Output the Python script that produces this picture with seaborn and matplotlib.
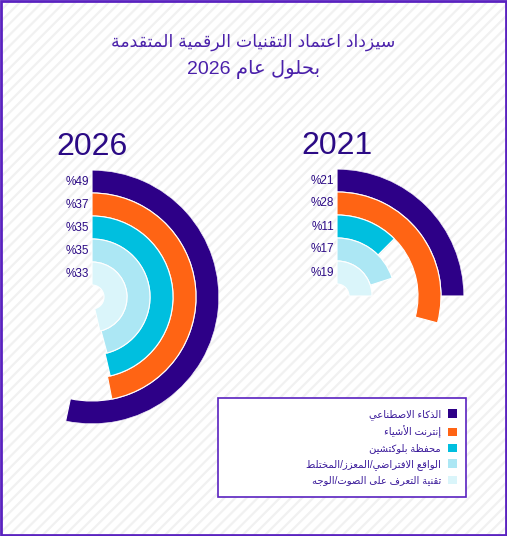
import re
import numpy as np
import matplotlib
matplotlib.use("Agg")
import matplotlib.pyplot as plt
import seaborn as sns
from matplotlib.patches import Patch, Rectangle

# data
categories = ["الذكاء الاصطناعي", "إنترنت الأشياء", "محفظة بلوكتشين",
              "الواقع الافتراضي/المعزز/المختلط", "تقنية التعرف على الصوت/الوجه"]
pct_2026 = [49, 37, 35, 35, 33]
pct_2021 = [21, 28, 11, 17, 19]
# arc length of each ring in degrees, as drawn in the picture
arc_2026 = [192, 169, 167, 165, 167]
arc_2021 = [90, 105, 45, 72, 90]
colors = ["#2d0087", "#ff6414", "#00bfdf", "#ace7f4", "#daf5fa"]
title_1 = "سيزداد اعتماد التقنيات الرقمية المتقدمة"
title_2 = "بحلول عام 2026"

# --- tiny arabic shaper + rtl reordering (matplotlib does neither) ---
DUAL = {'ئ': 0xFE89, 'ب': 0xFE8F, 'ت': 0xFE95, 'ث': 0xFE99, 'ج': 0xFE9D, 'ح': 0xFEA1,
        'خ': 0xFEA5, 'س': 0xFEB1, 'ش': 0xFEB5, 'ص': 0xFEB9, 'ض': 0xFEBD, 'ط': 0xFEC1,
        'ظ': 0xFEC5, 'ع': 0xFEC9, 'غ': 0xFECD, 'ف': 0xFED1, 'ق': 0xFED5, 'ك': 0xFED9,
        'ل': 0xFEDD, 'م': 0xFEE1, 'ن': 0xFEE5, 'ه': 0xFEE9, 'ي': 0xFEF1}
RIGHT = {'آ': 0xFE81, 'أ': 0xFE83, 'ؤ': 0xFE85, 'إ': 0xFE87, 'ا': 0xFE8D, 'ة': 0xFE93,
         'د': 0xFEA9, 'ذ': 0xFEAB, 'ر': 0xFEAD, 'ز': 0xFEAF, 'و': 0xFEED, 'ى': 0xFEEF}
NONE = {'ء': 0xFE80}
LAM_ALEF = {'آ': 0xFEF5, 'أ': 0xFEF7, 'إ': 0xFEF9, 'ا': 0xFEFB}


def shape_word(word):
    out, prev_fwd, i = [], False, 0
    while i < len(word):
        c = word[i]
        nxt = word[i + 1] if i + 1 < len(word) else ''
        if c == 'ل' and nxt in LAM_ALEF:
            out.append(chr(LAM_ALEF[nxt] + prev_fwd))
            prev_fwd = False
            i += 2
            continue
        if c in DUAL:
            nxt_ok = nxt in DUAL or nxt in RIGHT
            base = DUAL[c]
            if prev_fwd and nxt_ok:
                code = base + 3
            elif prev_fwd:
                code = base + 1
            elif nxt_ok:
                code = base + 2
            else:
                code = base
            out.append(chr(code))
            prev_fwd = nxt_ok
        elif c in RIGHT:
            out.append(chr(RIGHT[c] + prev_fwd))
            prev_fwd = False
        elif c in NONE:
            out.append(chr(NONE[c]))
            prev_fwd = False
        else:
            out.append(c)
            prev_fwd = False
        i += 1
    return ''.join(out[::-1])


def ar(text):
    # right-to-left line: reverse token order, keep digit runs as they are
    tokens = re.findall(r'[\u0600-\u06FF]+|[0-9]+|[^\u0600-\u06FF0-9]', text)
    return ''.join(shape_word(t) if re.match(r'[\u0600-\u06FF]', t) else t
                   for t in reversed(tokens))


sns.set_theme(style="white")
plt.rcParams['font.family'] = ['Liberation Sans', 'DejaVu Sans']
plt.rcParams['hatch.linewidth'] = 1.6

W, H = 507, 536
fig = plt.figure(figsize=(W / 100, H / 100), dpi=100)

# striped background and purple frame
bg = fig.add_axes([0, 0, 1, 1], zorder=-10)
bg.set_xlim(0, 1)
bg.set_ylim(0, 1)
bg.axis("off")
bg.add_patch(Rectangle((0, 0), 1, 1, facecolor="white", edgecolor="#f1f1f1",
                       hatch="///", lw=0))
bg.add_patch(Rectangle((0.002, 0.002), 0.996, 0.996, facecolor="none",
                       edgecolor="#5a22c0", lw=2))

text_col = "#2b0a85"
fig.text(0.5, 1 - 42 / H, ar(title_1), ha="center", va="center", fontsize=12.5,
         color="#4a20aa")
fig.text(0.5, 1 - 69 / H, ar(title_2), ha="center", va="center", fontsize=14,
         color="#4a20aa")

R = 127.0
hole = 12.0
ring_w = (R - hole) / len(categories)


def radial(ax, pcts, arcs, year):
    ax.set_theta_zero_location("N")
    ax.set_theta_direction(-1)
    n = len(pcts)
    for i, (p, a) in enumerate(zip(pcts, arcs)):
        bottom = hole + (n - 1 - i) * ring_w
        ax.bar(0, ring_w, width=np.deg2rad(a), bottom=bottom, align="edge",
               color=colors[i], edgecolor="white", linewidth=0.8)
        ax.annotate(ar(f"{p}%"), xy=(0, bottom + ring_w / 2), xytext=(-2, 0),
                    textcoords="offset points", ha="right", va="center",
                    fontsize=8.5, color=text_col)
    ax.set_ylim(0, R)
    ax.axis("off")
    ax.text(0.5, 1.061, year, transform=ax.transAxes, ha="center",
            va="baseline", fontsize=23, color=text_col)


ax1 = fig.add_axes([(92 - R) / W, (H - 297 - R) / H, 2 * R / W, 2 * R / H],
                   projection="polar")
radial(ax1, pct_2026, arc_2026, "2026")
ax2 = fig.add_axes([(337 - R) / W, (H - 296 - R) / H, 2 * R / W, 2 * R / H],
                   projection="polar")
radial(ax2, pct_2021, arc_2021, "2021")

# legend
bg.add_patch(Rectangle((218 / W, 1 - 497 / H), 248 / W, 99 / H, facecolor="white",
                       edgecolor="#5a22c0", lw=1.2))
handles = [Patch(facecolor=c, edgecolor="none") for c in sns.color_palette(colors)]
fig.legend(handles, [ar(c) for c in categories], loc="upper right",
           bbox_to_anchor=(457 / W, 1 - 409 / H), frameon=False, markerfirst=False,
           fontsize=7.2, handlelength=0.95, handleheight=0.95, handletextpad=0.65,
           labelspacing=0.55, borderpad=0, borderaxespad=0, labelcolor="#3a1a9a")

fig.savefig("out.png", dpi=100)
